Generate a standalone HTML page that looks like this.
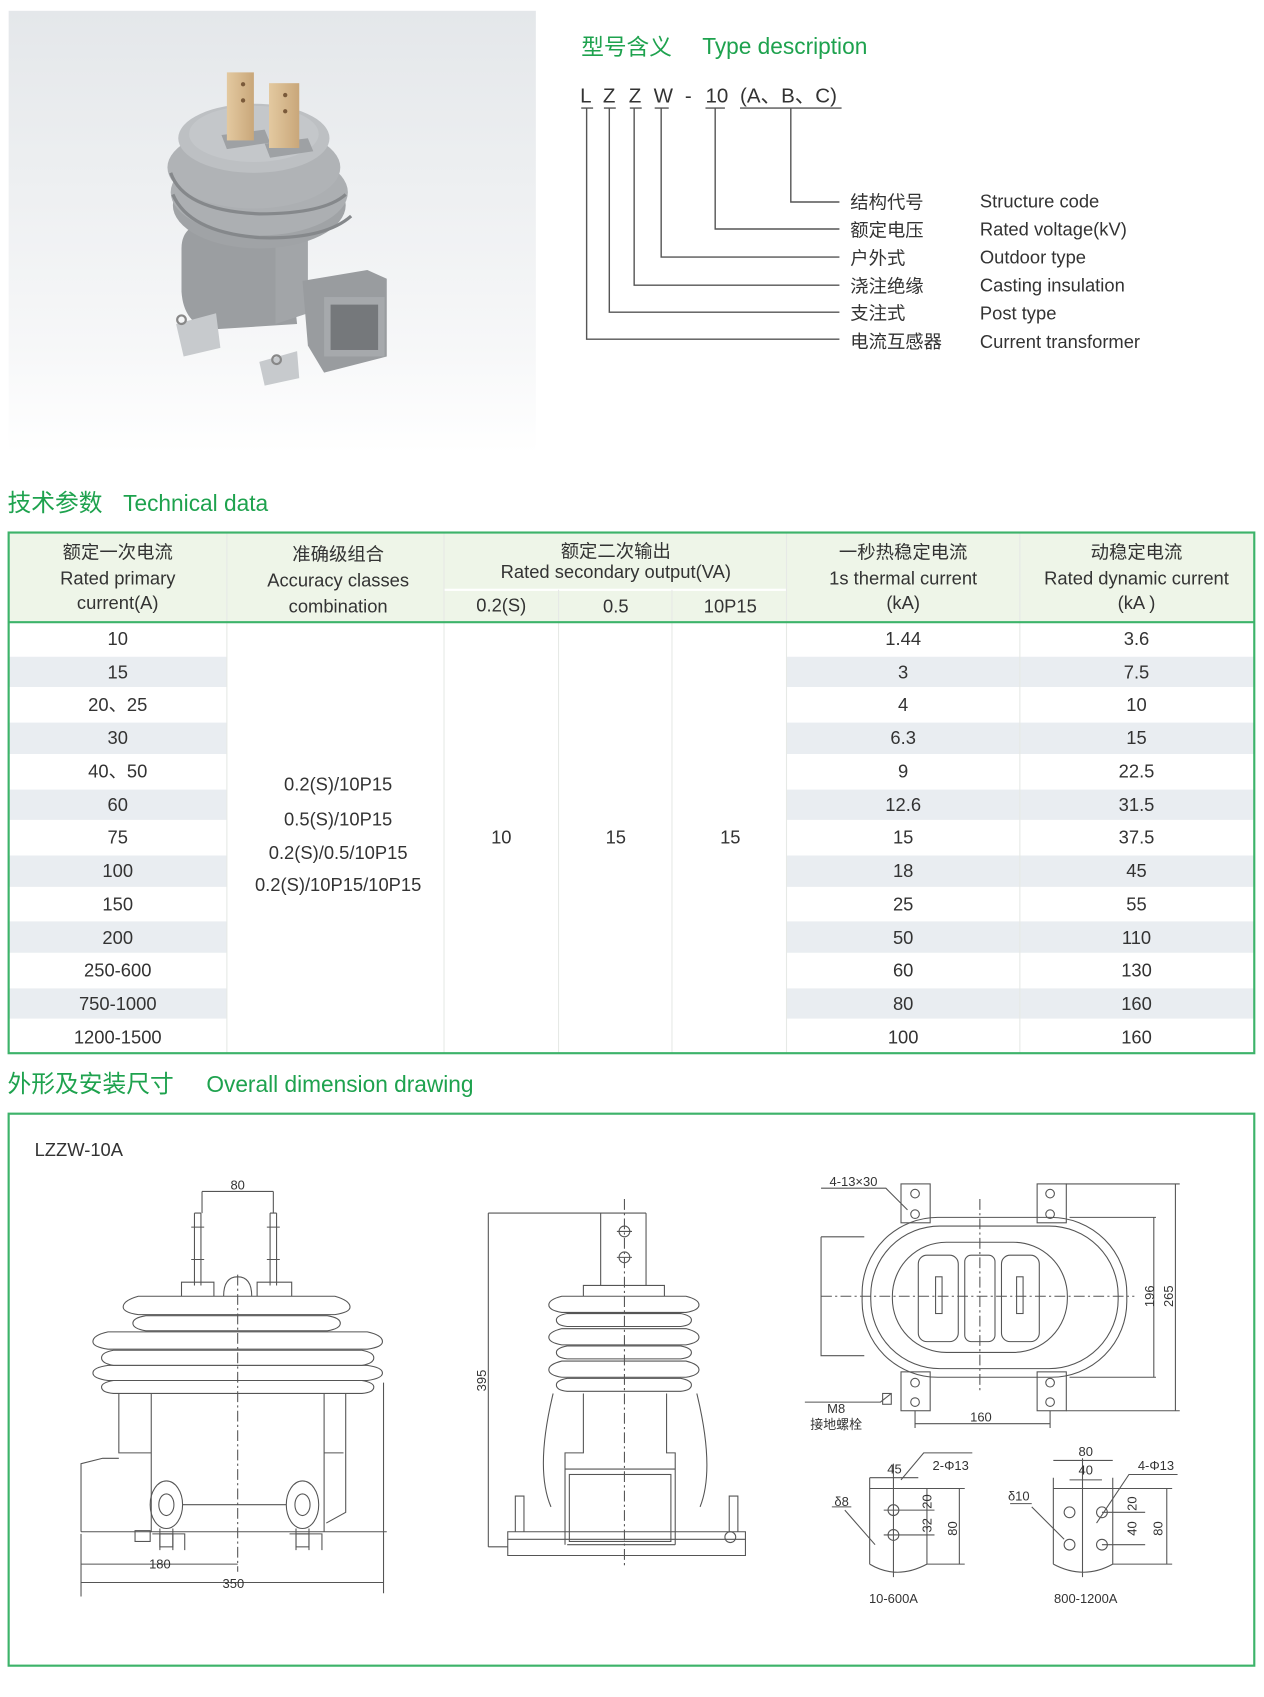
<!DOCTYPE html>
<html><head><meta charset="utf-8"><style>
html,body{margin:0;padding:0;background:#fff;}
svg{display:block;}
text{font-family:"Liberation Sans","Noto Sans CJK SC",sans-serif;}
</style></head><body>
<svg width="1264" height="1697" viewBox="0 0 1170 1571" preserveAspectRatio="none" xmlns="http://www.w3.org/2000/svg">
<defs>
<linearGradient id="bg" x1="0" y1="0" x2="0" y2="1"><stop offset="0" stop-color="#e4e7ea"/><stop offset="0.75" stop-color="#f6f7f8"/><stop offset="1" stop-color="#ffffff"/></linearGradient>
<linearGradient id="cu" x1="0" y1="0" x2="1" y2="0"><stop offset="0" stop-color="#e3c9a0"/><stop offset="1" stop-color="#c9a77a"/></linearGradient>
</defs>
<!-- photo -->
<rect x="8" y="10" width="488" height="410" fill="url(#bg)"/>
<g>
<path d="M168 230 Q168 205 200 205 L265 210 L275 300 L195 305 Q170 300 168 270Z" fill="#9b9ea1"/>
<path d="M255 215 L285 215 L285 290 L255 300Z" fill="#a2a5a8"/>
<path d="M280 260 L340 250 L358 258 L358 330 L300 345 L285 320 Z" fill="#999c9f"/>
<rect x="300" y="275" width="56" height="55" fill="#a6a9ac"/>
<rect x="306" y="282" width="44" height="42" fill="#75787b"/>
<ellipse cx="240" cy="190" rx="80" ry="40" fill="#a0a3a6"/>
<ellipse cx="240" cy="178" rx="82" ry="40" fill="#acafb2"/>
<path d="M160 180 Q175 215 240 220 Q300 222 325 200" stroke="#85888b" stroke-width="3" fill="none"/>
<ellipse cx="235" cy="155" rx="80" ry="38" fill="#b0b3b6"/>
<path d="M158 160 Q170 195 240 198 Q300 198 320 180" stroke="#85888b" stroke-width="3" fill="none"/>
<ellipse cx="235" cy="128" rx="70" ry="32" fill="#bdc0c3"/>
<ellipse cx="235" cy="124" rx="60" ry="26" fill="#c4c7ca"/>
<path d="M205 125 L245 120 L250 132 L210 138Z" fill="#9ea1a4"/><path d="M245 133 L285 128 L290 140 L250 146Z" fill="#9ea1a4"/>
<rect x="210" y="67" width="25" height="63" fill="url(#cu)"/>
<rect x="249" y="77" width="28" height="60" fill="url(#cu)"/>
<circle cx="225" cy="78" r="2" fill="#7a5a3a"/><circle cx="225" cy="93" r="2" fill="#7a5a3a"/>
<circle cx="264" cy="88" r="2" fill="#7a5a3a"/><circle cx="264" cy="103" r="2" fill="#7a5a3a"/>
<path d="M163 300 L200 290 L204 322 L170 330Z" fill="#c7cacd"/>
<path d="M240 335 L275 325 L277 350 L245 357Z" fill="#c7cacd"/>
<circle cx="168" cy="296" r="4" fill="none" stroke="#888" stroke-width="2"/>
<circle cx="256" cy="333" r="4" fill="none" stroke="#888" stroke-width="2"/>
</g>

<!-- Type description -->
<text x="538" y="51" font-size="21" fill="#1ea24e">型号含义</text>
<text x="650" y="50" font-size="21" fill="#1ea24e">Type description</text>
<g font-size="19" fill="#333">
<text x="537" y="95">L</text><text x="558" y="95">Z</text><text x="582" y="95">Z</text><text x="605" y="95">W</text><text x="634" y="95">-</text><text x="653" y="95">10</text><text x="685" y="95">(A、B、C)</text>
</g>
<g stroke="#555" stroke-width="1.3" fill="none">
<path d="M538 100h11M559 100h11M583 100h11M606 100h13M653 100h18M685 100h94"/>
<path d="M543 100V314H777"/><path d="M564 100V289H777"/><path d="M587 100V264H777"/><path d="M612 100V238H777"/><path d="M662 100V212H777"/><path d="M732 100V187H777"/>
</g>
<g font-size="17" fill="#333">
<text x="787" y="193">结构代号</text><text x="787" y="219">额定电压</text><text x="787" y="245">户外式</text><text x="787" y="271">浇注绝缘</text><text x="787" y="296">支注式</text><text x="787" y="322">电流互感器</text>
<text x="907" y="192">Structure code</text><text x="907" y="218">Rated voltage(kV)</text><text x="907" y="244">Outdoor type</text><text x="907" y="270">Casting insulation</text><text x="907" y="296">Post type</text><text x="907" y="322">Current transformer</text>
</g>

<!-- Technical data -->
<text x="7" y="473" font-size="22" fill="#1ea24e">技术参数</text>
<text x="114" y="473" font-size="21" fill="#1ea24e">Technical data</text>
<rect x="8" y="494" width="1153" height="82" fill="#eef5e8"/>
<g fill="#e9edf1">
<rect x="8" y="607" width="202" height="30.7"/><rect x="728" y="607" width="433" height="30.7"/>
<rect x="8" y="668" width="202" height="30.7"/><rect x="728" y="668" width="433" height="30.7"/>
<rect x="8" y="730" width="202" height="30.7"/><rect x="728" y="730" width="433" height="30.7"/>
<rect x="8" y="791" width="202" height="30.7"/><rect x="728" y="791" width="433" height="30.7"/>
<rect x="8" y="852" width="202" height="30.7"/><rect x="728" y="852" width="433" height="30.7"/>
<rect x="8" y="914" width="202" height="30.7"/><rect x="728" y="914" width="433" height="30.7"/>
</g>
<g stroke="#ffffff" stroke-width="2">
<path d="M8 607H210M8 637H210M8 668H210M8 699H210M8 730H210M8 760H210M8 791H210M8 822H210M8 852H210M8 883H210M8 914H210M8 944H210"/>
<path d="M728 607H1161M728 637H1161M728 668H1161M728 699H1161M728 730H1161M728 760H1161M728 791H1161M728 822H1161M728 852H1161M728 883H1161M728 914H1161M728 944H1161"/>
<path d="M411 546H728"/>
</g>
<g stroke="#e6e9e6" stroke-width="1">
<path d="M210 494V975M411 494V975M517 546V975M622 546V975M728 494V975M944 494V975"/>
</g>
<rect x="8" y="493" width="1153" height="482" fill="none" stroke="#3db36a" stroke-width="2"/>
<path d="M8 576H1161" stroke="#3db36a" stroke-width="2"/>
<g font-size="17" fill="#333" text-anchor="middle">
<text x="109" y="517">额定一次电流</text><text x="109" y="541">Rated primary</text><text x="109" y="564">current(A)</text>
<text x="313" y="519">准确级组合</text><text x="313" y="543">Accuracy classes</text><text x="313" y="567">combination</text>
<text x="570" y="516">额定二次输出</text><text x="570" y="535">Rated secondary output(VA)</text>
<text x="464" y="566">0.2(S)</text><text x="570" y="567">0.5</text><text x="676" y="567">10P15</text>
<text x="836" y="517">一秒热稳定电流</text><text x="836" y="541">1s thermal current</text><text x="836" y="564">(kA)</text>
<text x="1052" y="517">动稳定电流</text><text x="1052" y="541">Rated dynamic current</text><text x="1052" y="564">(kA )</text>
</g>
<g font-size="17" fill="#333" text-anchor="middle">
<text x="109" y="597">10</text><text x="109" y="628">15</text><text x="109" y="658">20、25</text><text x="109" y="689">30</text><text x="109" y="720">40、50</text><text x="109" y="751">60</text><text x="109" y="781">75</text><text x="109" y="812">100</text><text x="109" y="843">150</text><text x="109" y="874">200</text><text x="109" y="904">250-600</text><text x="109" y="935">750-1000</text><text x="109" y="966">1200-1500</text>
<text x="836" y="597">1.44</text><text x="836" y="628">3</text><text x="836" y="658">4</text><text x="836" y="689">6.3</text><text x="836" y="720">9</text><text x="836" y="751">12.6</text><text x="836" y="781">15</text><text x="836" y="812">18</text><text x="836" y="843">25</text><text x="836" y="874">50</text><text x="836" y="904">60</text><text x="836" y="935">80</text><text x="836" y="966">100</text>
<text x="1052" y="597">3.6</text><text x="1052" y="628">7.5</text><text x="1052" y="658">10</text><text x="1052" y="689">15</text><text x="1052" y="720">22.5</text><text x="1052" y="751">31.5</text><text x="1052" y="781">37.5</text><text x="1052" y="812">45</text><text x="1052" y="843">55</text><text x="1052" y="874">110</text><text x="1052" y="904">130</text><text x="1052" y="935">160</text><text x="1052" y="966">160</text>
<text x="313" y="732">0.2(S)/10P15</text><text x="313" y="764">0.5(S)/10P15</text><text x="313" y="795">0.2(S)/0.5/10P15</text><text x="313" y="825">0.2(S)/10P15/10P15</text>
<text x="464" y="781">10</text><text x="570" y="781">15</text><text x="676" y="781">15</text>
</g>

<!-- Dimension drawing -->
<text x="7" y="1011" font-size="22" fill="#1ea24e">外形及安装尺寸</text>
<text x="191" y="1011" font-size="21" fill="#1ea24e">Overall dimension drawing</text>
<rect x="8" y="1031" width="1153" height="511" fill="none" stroke="#3db36a" stroke-width="2"/>
<text x="32" y="1070" font-size="17" fill="#333">LZZW-10A</text>

<g stroke="#555" stroke-width="1" fill="none">
<path d="M180 1123V1190M186 1123V1190M250 1123V1190M256 1123V1190M180 1123h6M250 1123h6"/>
<path d="M177 1136h12M177 1166h12M247 1136h12M247 1166h12"/>
<path d="M187 1103V1123M253 1103V1123M187 1103H253"/>
<path d="M168 1200V1187h30V1200M238 1200V1187h32V1200M207 1200q0-18 13-18q13 0 13 18"/>
<path d="M128 1200H310q14 4 14 10q0 5-14 7H128q-14-2-14-7q0-6 14-10Z"/>
<path d="M135 1218H303q12 2 12 7q0 5-12 7H135q-12-2-12-7q0-5 12-7Z"/>
<path d="M100 1233H340q14 3 14 9q0 5-14 7H100q-14-2-14-7q0-6 14-9Z"/>
<path d="M105 1250H335q11 2 11 7q0 5-11 7H105q-11-2-11-7q0-5 11-7Z"/>
<path d="M100 1264H340q14 2 14 7q0 5-14 7H100q-14-2-14-7q0-5 14-7Z"/>
<path d="M105 1278H335q11 2 11 6q0 5-11 6H105q-11-1-11-6q0-4 11-6Z"/>
<path d="M140 1290V1418M300 1290V1418M110 1290V1345H140M320 1290V1400L302 1410M300 1345H318"/>
<path d="M75 1418V1355L95 1350H110M75 1418H358"/>
<ellipse cx="154" cy="1393" rx="15" ry="22"/><ellipse cx="154" cy="1393" rx="7" ry="10"/>
<ellipse cx="280" cy="1393" rx="15" ry="22"/><ellipse cx="280" cy="1393" rx="7" ry="10"/>
<path d="M169 1393H265"/>
<path d="M148 1415v20M160 1415v20M274 1415v20M286 1415v20M141 1420h30v15M268 1420h30v15"/>
<rect x="148" y="1420" width="12" height="12"/><rect x="274" y="1420" width="12" height="12"/>
<rect x="125" y="1417" width="14" height="10"/>
<path d="M355 1280V1475"/>
<path d="M75 1420V1478M75 1448H220M75 1465H355"/>
<path d="M220 1180V1455" stroke-dasharray="10 3 2 3"/>
<path d="M556 1123V1190M598 1123V1190M556 1123H598M452 1123H556"/>
<circle cx="578" cy="1140" r="5"/><circle cx="578" cy="1164" r="5"/>
<path d="M571 1140h14M571 1164h14"/>
<path d="M540 1200V1190h75V1200"/>
<path d="M520 1200H635q12 3 12 8q0 5-12 7H520q-12-2-12-7q0-5 12-8Z"/>
<path d="M525 1216H630q10 2 10 6q0 5-10 6H525q-10-1-10-6q0-4 10-6Z"/>
<path d="M520 1230H635q12 3 12 8q0 5-12 7H520q-12-2-12-7q0-5 12-8Z"/>
<path d="M525 1246H630q10 2 10 6q0 5-10 6H525q-10-1-10-6q0-4 10-6Z"/>
<path d="M520 1260H635q12 3 12 8q0 5-12 7H520q-12-2-12-7q0-5 12-8Z"/>
<path d="M525 1276H630q10 2 10 6q0 5-10 6H525q-10-1-10-6q0-4 10-6Z"/>
<path d="M512 1290Q495 1360 510 1395M645 1290Q662 1360 648 1395"/>
<path d="M540 1290V1345H523V1430M617 1290V1345H625V1430M523 1360H625M525 1430H625"/>
<rect x="527" y="1365" width="94" height="62"/>
<path d="M470 1418H690V1440H470ZM470 1425H690" />
<path d="M477 1418V1385h8V1418M675 1418V1385h8V1418"/>
<circle cx="676" cy="1423" r="5"/>
<path d="M452 1123V1432M452 1432H470"/>
<path d="M578 1110V1450" stroke-dasharray="10 3 2 3"/>
<path d="M760 1145H800M760 1145V1255H800"/>
<rect x="798" y="1127" width="245" height="148" rx="70"/>
<rect x="806" y="1135" width="229" height="132" rx="64"/>
<rect x="826" y="1150" width="162" height="102" rx="50"/>
<rect x="850" y="1162" width="37" height="80" rx="8"/><rect x="893" y="1162" width="28" height="80" rx="6"/><rect x="927" y="1162" width="35" height="80" rx="8"/>
<rect x="866" y="1182" width="6" height="34"/><rect x="941" y="1182" width="6" height="34"/>
<rect x="834" y="1096" width="27" height="36"/><rect x="960" y="1096" width="27" height="36"/>
<rect x="834" y="1270" width="27" height="36"/><rect x="960" y="1270" width="27" height="36"/>
<circle cx="847" cy="1105" r="4"/><circle cx="847" cy="1124" r="4"/><circle cx="972" cy="1105" r="4"/><circle cx="972" cy="1124" r="4"/>
<circle cx="847" cy="1280" r="4"/><circle cx="847" cy="1298" r="4"/><circle cx="972" cy="1280" r="4"/><circle cx="972" cy="1298" r="4"/>
<path d="M760 1200H1050M907 1110V1290" stroke-dasharray="10 3 2 3"/>
<path d="M990 1127H1070M990 1275H1070M1068 1127V1275M987 1096H1092M987 1306H1092M1088 1096V1306"/>
<path d="M847 1306V1322M972 1306V1322M847 1318H972"/>
<path d="M760 1100H820L840 1120"/>
<path d="M745 1298H815L825 1290"/>
<rect x="817" y="1290" width="8" height="10"/>
<path d="M805 1368V1448M805 1378H880M858 1378V1448M805 1448q25 15 53 0M827 1355V1460" />
<circle cx="827" cy="1398" r="5"/><circle cx="827" cy="1421" r="5"/>
<path d="M818 1398h18M818 1421h18M827 1398H865M827 1421H865M858 1378H893M858 1448H893M888 1378V1448M805 1368h45M834 1370L855 1345H900"/>
<path d="M782 1398L810 1430M770 1395h18"/>
<path d="M975 1368V1448M975 1448q28 15 55 0M1030 1368V1448M975 1378H1080M1002 1350V1460"/>
<circle cx="990" cy="1400" r="5"/><circle cx="1020" cy="1400" r="5"/><circle cx="990" cy="1430" r="5"/><circle cx="1020" cy="1430" r="5"/>
<path d="M975 1352H1030M990 1370H1020M1020 1400H1060M1020 1430H1060M1030 1378H1085M1030 1448H1085M1080 1378V1448M1015 1410L1045 1365H1090"/>
<path d="M955 1395L985 1425M935 1392h20"/>
</g>
<g font-size="12" fill="#333" text-anchor="middle">
<text x="220" y="1101">80</text>
<text x="148" y="1452">180</text><text x="216" y="1470">350</text>
<text x="450" y="1278" transform="rotate(-90 450 1278)">395</text>
<text x="790" y="1098">4-13×30</text>
<text x="774" y="1308">M8</text><text x="774" y="1323">接地螺栓</text>
<text x="908" y="1316">160</text>
<text x="1068" y="1200" transform="rotate(-90 1068 1200)">196</text>
<text x="1086" y="1200" transform="rotate(-90 1086 1200)">265</text>
<text x="828" y="1364">45</text><text x="880" y="1361">2-Φ13</text><text x="779" y="1394">δ8</text>
<text x="862" y="1390" transform="rotate(-90 862 1390)">20</text>
<text x="862" y="1412" transform="rotate(-90 862 1412)">32</text>
<text x="886" y="1415" transform="rotate(-90 886 1415)">80</text>
<text x="1005" y="1348">80</text><text x="1005" y="1365">40</text><text x="1070" y="1361">4-Φ13</text><text x="943" y="1389">δ10</text>
<text x="1052" y="1392" transform="rotate(-90 1052 1392)">20</text>
<text x="1052" y="1415" transform="rotate(-90 1052 1415)">40</text>
<text x="1076" y="1415" transform="rotate(-90 1076 1415)">80</text>
<text x="827" y="1484">10-600A</text><text x="1005" y="1484">800-1200A</text>
</g>
</svg>
</body></html>
